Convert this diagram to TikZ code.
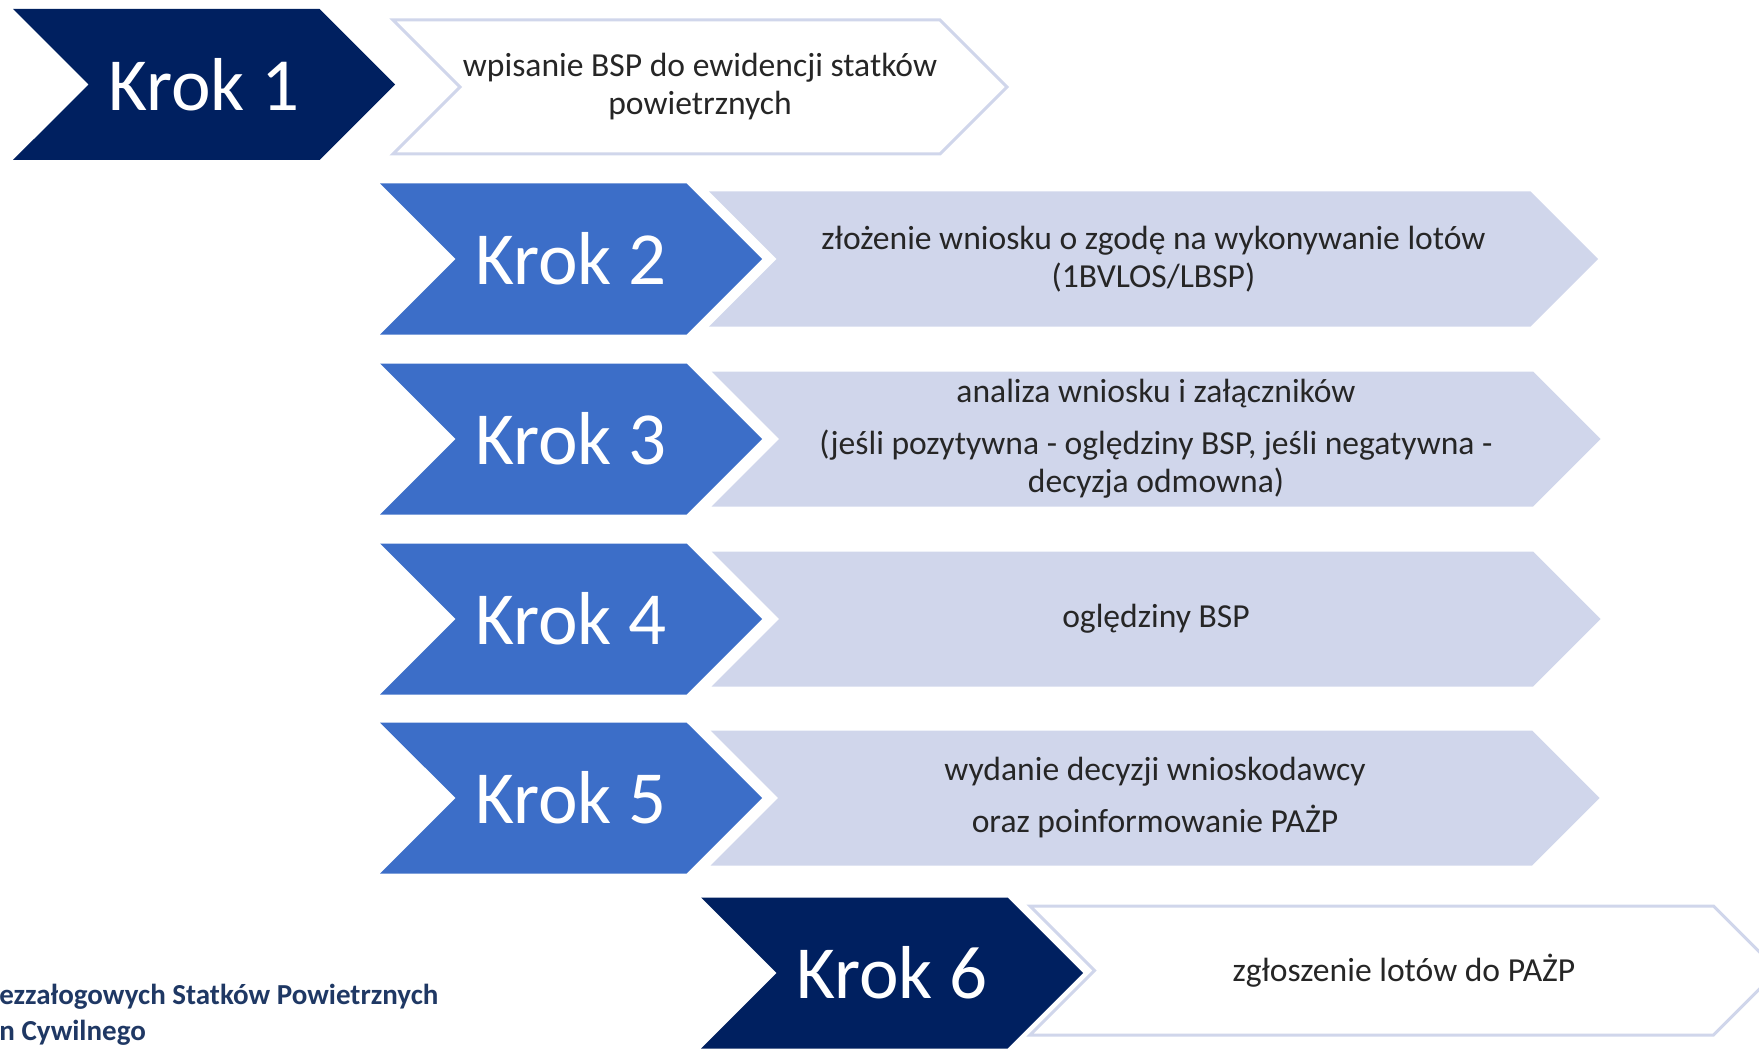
\documentclass[tikz,border=0pt]{standalone}
\usepackage{fontspec}
\setmainfont{Carlito}
\usetikzlibrary{shapes.symbols}

\definecolor{krokdark}{HTML}{002060}
\definecolor{krokblue}{HTML}{3C6EC8}
\definecolor{lawenda}{HTML}{D0D6EB}
\definecolor{stopkanavy}{HTML}{1F3864}

\tikzset{
  strzalka/.style={signal, signal from=west, signal to=east, signal pointer angle=90, inner sep=0pt},
  krokbox/.style={strzalka, minimum width=191pt, minimum height=75.5pt, text=white, font=\fontsize{37.5}{42}\selectfont},
  opisbox/.style={strzalka, align=center, text=black!85, font=\fontsize{16.8}{19}\selectfont},
  opisjasny/.style={opisbox, fill=white, draw=lawenda, line width=1.5pt},
  opisszary/.style={opisbox, fill=lawenda, minimum width=444.5pt, minimum height=67.5pt}
}

\begin{document}
\begin{tikzpicture}[x=0.5pt,y=-0.5pt]
        \useasboundingbox (0,0) rectangle (1759,1048);
        \clip (0,0) rectangle (1759,1048);
        % krok 1
        \node (K1) at (204,84.5) [krokbox, fill=krokdark] {Krok 1};
        \node (T1) at (700,87) [opisjasny, minimum width=307pt, minimum height=67pt] {wpisanie BSP do ewidencji statków\\powietrznych};
        % kroki 2-5
        \node (K2) at (571,259) [krokbox, fill=krokblue] {Krok 2};
        \node (T2) at (1153.5,259) [opisszary] {złożenie wniosku o zgodę na wykonywanie lotów\\(1BVLOS/LBSP)};
        \node (K3) at (571,439) [krokbox, fill=krokblue] {Krok 3};
        \node (T3) at (1156,439) [opisszary] {analiza wniosku i załączników\\[7pt](jeśli pozytywna - oględziny BSP, jeśli negatywna -\\decyzja odmowna)};
        \node (K4) at (571,619) [krokbox, fill=krokblue] {Krok 4};
        \node (T4) at (1156,619) [opisszary] {oględziny BSP};
        \node (K5) at (571,798) [krokbox, fill=krokblue] {Krok 5};
        \node (T5) at (1155,798) [opisszary] {wydanie decyzji wnioskodawcy\\[7pt]oraz poinformowanie PAŻP};
        % krok 6
        \node (K6) at (892,973) [krokbox, fill=krokdark] {Krok 6};
        \node (T6) at (1404,970.5) [opisjasny, minimum width=374pt, minimum height=64.5pt] {zgłoszenie lotów do PAŻP};
        % stopka
        \node (stopka) at (-1,1015) [anchor=west, align=left, inner sep=0pt, text=stopkanavy, font=\bfseries\fontsize{14.5}{18}\selectfont] {ezzałogowych Statków Powietrznych\\n Cywilnego};
\end{tikzpicture}
\end{document}
